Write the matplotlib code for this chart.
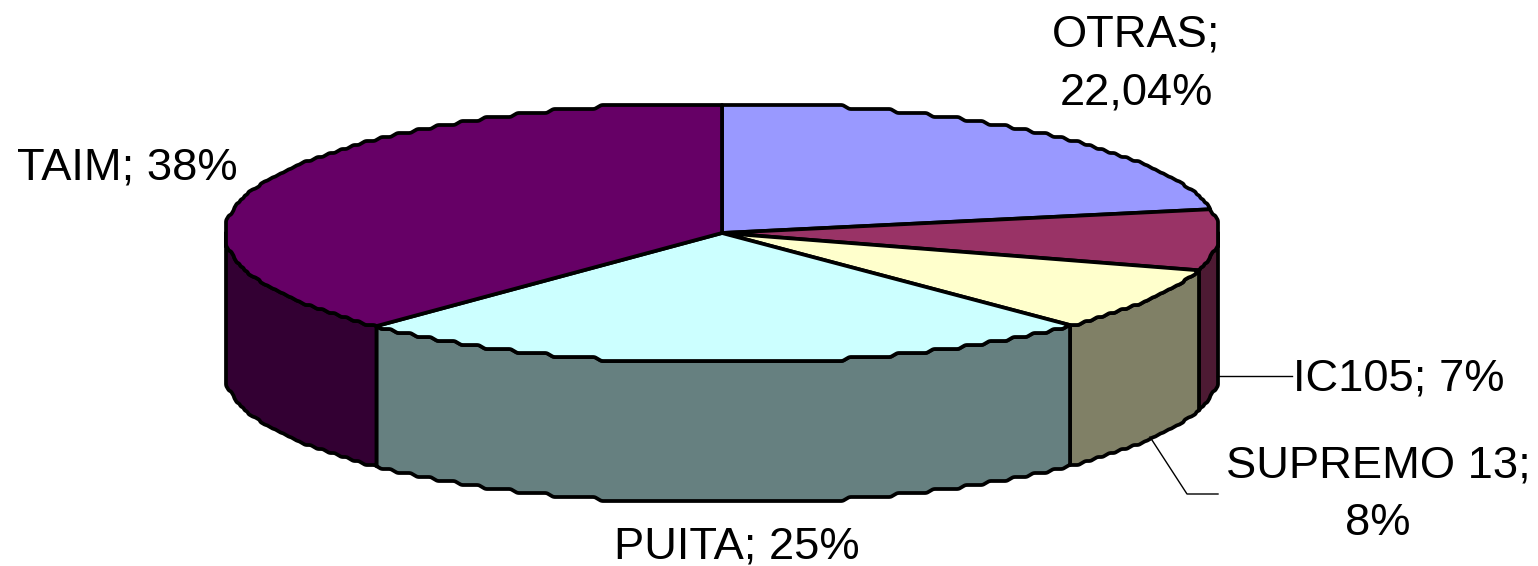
import numpy as np
import matplotlib
matplotlib.use("Agg")
import matplotlib.pyplot as plt
from matplotlib.patches import Polygon

labels = ["OTRAS", "IC105", "SUPREMO 13", "PUITA", "TAIM"]
values = [22.04, 7.45, 8.15, 24.6, 37.76]
value_text = ["22,04%", "7%", "8%", "25%", "38%"]
top_colors = ["#9999FF", "#993366", "#FFFFCC", "#CCFFFF", "#660066"]
side_colors = ["#4D4D80", "#4D1A33", "#808066", "#668080", "#330033"]

W, H = 1538, 566
CX, CY, RX, RY, DEPTH = 722, 233, 497, 130, 140
GRID, SMOOTH = 4.0, 11

plt.rcParams["font.family"] = ["Liberation Sans", "DejaVu Sans"]
fig = plt.figure(figsize=(W / 100, H / 100), dpi=100)
ax = fig.add_axes([0, 0, 1, 1])
ax.set_xlim(0, W)
ax.set_ylim(H, 0)
ax.axis("off")

# rim table: the ellipse, stepped as in a low-resolution bitmap, then softened
T = np.linspace(0, 360, 5761)
tr = np.radians(T)
RIM = np.column_stack([RX * np.sin(tr), -RY * np.cos(tr)])
RIM = np.round(RIM / GRID) * GRID
seg = np.r_[0, np.cumsum(np.hypot(*np.diff(RIM, axis=0).T))]
U = np.linspace(0, seg[-1], 5761)
T = np.interp(U, seg, T)
RIM = np.column_stack([np.interp(U, seg, RIM[:, 0]), np.interp(U, seg, RIM[:, 1])])
step = seg[-1] / 5760
win = max(1, int(SMOOTH / step)) | 1
kernel = np.ones(win) / win
pad = win
wrapped = np.vstack([RIM[-pad - 1:-1], RIM, RIM[1:pad + 1]])
RIM = np.column_stack([np.convolve(wrapped[:, k], kernel, mode="same")[pad:-pad] for k in (0, 1)])
RIM = RIM + [CX, CY]


def rim(t0, t1, dy=0):
    i0, i1 = np.searchsorted(T, [t0, t1])
    return RIM[i0:i1 + 1] + [0, dy]


edges = np.concatenate([[0], np.cumsum(values)]) / sum(values) * 360
LW = 2.7

# side walls (only the front half of the rim is visible)
for i in range(len(values)):
    a, b = max(edges[i], 90), min(edges[i + 1], 270)
    if a >= b:
        continue
    pts = np.vstack([rim(a, b), rim(a, b, DEPTH)[::-1]])
    ax.add_patch(Polygon(pts, closed=True, fc=side_colors[i], ec="black", lw=LW, joinstyle="round"))

# top slices
for i in range(len(values)):
    pts = np.vstack([[[CX, CY]], rim(edges[i], edges[i + 1])])
    ax.add_patch(Polygon(pts, closed=True, fc=top_colors[i], ec="black", lw=LW, joinstyle="round"))

# leader lines
ax.plot([1217, 1292], [376, 376], color="black", lw=1.0)
ax.plot([1150, 1187, 1218], [437, 494, 494], color="black", lw=1.0)

FS = 32.6
kw = dict(fontsize=FS, color="black", ha="center", va="center", linespacing=1.53)
ax.text(1136, 64, f"{labels[0]};\n{value_text[0]}", **kw)
ax.text(1399, 379, f"{labels[1]}; {value_text[1]}", **kw)
ax.text(1378, 495, f"{labels[2]};\n{value_text[2]}", **kw)
ax.text(737, 547, f"{labels[3]}; {value_text[3]}", **kw)
ax.text(127, 168, f"{labels[4]}; {value_text[4]}", **kw)

fig.savefig("out.png", dpi=100)
